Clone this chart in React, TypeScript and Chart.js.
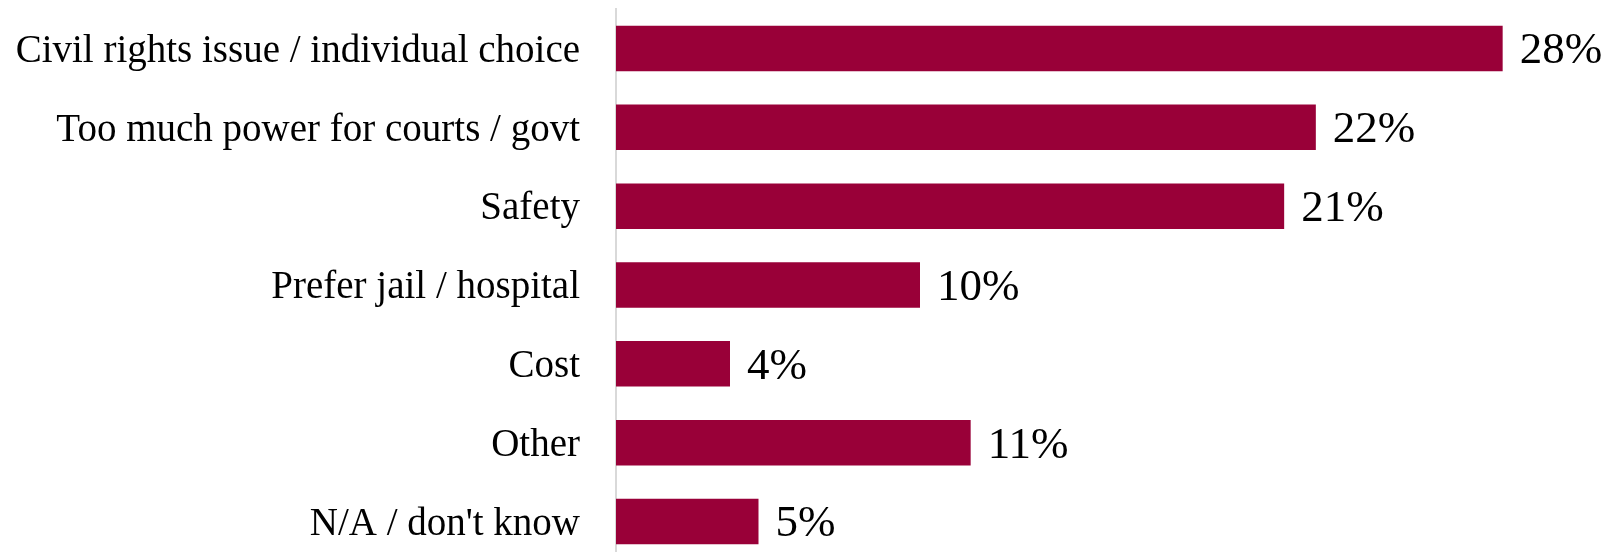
import React, { useEffect, useRef } from "react";
import { Chart, registerables } from "chart.js";

Chart.register(...registerables);

const categories = [
  "Civil rights issue / individual choice",
  "Too much power for courts / govt",
  "Safety",
  "Prefer jail / hospital",
  "Cost",
  "Other",
  "N/A / don't know",
];
const values = [28.0, 22.1, 21.1, 9.6, 3.6, 11.2, 4.5];
const valueLabels = ["28%", "22%", "21%", "10%", "4%", "11%", "5%"];

const BAR_COLOR = "#990038";
const FONT = "'Liberation Serif', 'Times New Roman', serif";

const labelPlugin = {
  id: "valueLabels",
  afterDatasetsDraw(chart: any) {
    const ctx = chart.ctx;
    const meta = chart.getDatasetMeta(0);
    ctx.save();
    ctx.font = `45px ${FONT}`;
    ctx.fillStyle = "#000000";
    ctx.textAlign = "left";
    ctx.textBaseline = "middle";
    meta.data.forEach((bar: any, i: number) => {
      ctx.fillText(valueLabels[i], bar.x + 17, bar.y + 3);
    });
    ctx.restore();
  },
};

export default function App() {
  const ref = useRef<HTMLCanvasElement | null>(null);
  useEffect(() => {
    if (!ref.current) return;
    const chart = new Chart(ref.current, {
      type: "bar",
      data: {
        labels: categories,
        datasets: [
          {
            data: values,
            backgroundColor: BAR_COLOR,
            borderWidth: 0,
            categoryPercentage: 1,
            barPercentage: 0.577,
          },
        ],
      },
      options: {
        indexAxis: "y",
        responsive: false,
        animation: false,
        devicePixelRatio: 1,
        layout: { padding: { top: 9, right: 46, bottom: 0, left: 0 } },
        plugins: {
          legend: { display: false },
          tooltip: { enabled: false },
          title: { display: false },
        },
        scales: {
          x: {
            display: false,
            min: 0,
            max: 30,
            grid: { display: false },
          },
          y: {
            afterFit(scale: any) {
              scale.width = 616;
              scale.paddingTop = 0;
              scale.paddingBottom = 0;
            },
            grid: { display: false, drawTicks: true, tickLength: 36 },
            border: { display: true, color: "#d9d9d9", width: 2 },
            ticks: {
              padding: 0,
              labelOffset: 3,
              color: "#000000",
              font: { family: FONT, size: 39 },
            },
          },
        },
      },
      plugins: [labelPlugin],
    });
    return () => chart.destroy();
  }, []);
  return (
    <div
      style={{
        position: "fixed",
        left: 0,
        top: 0,
        width: 1612,
        height: 552,
        overflow: "hidden",
        background: "#ffffff",
      }}
    >
      <canvas
        ref={ref}
        width={1612}
        height={561}
        style={{ width: 1612, height: 561, display: "block" }}
      />
    </div>
  );
}
